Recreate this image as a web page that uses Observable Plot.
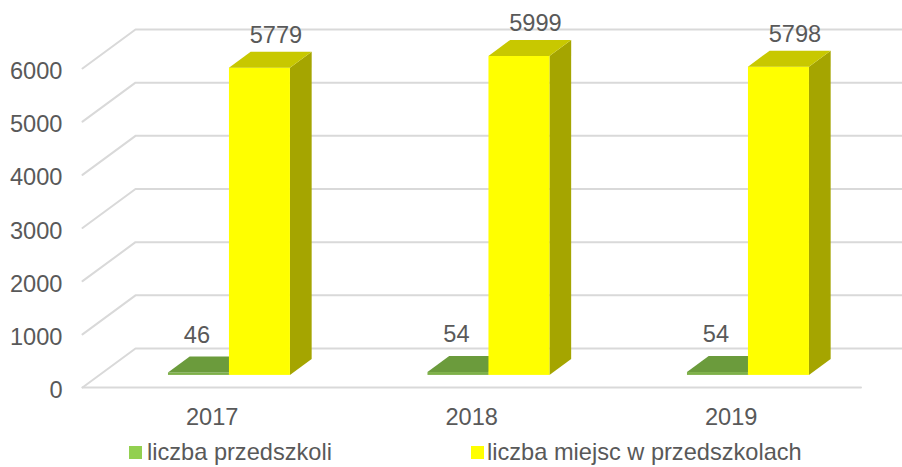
<!DOCTYPE html>
<html>
<head>
<meta charset="utf-8">
<script src="https://cdn.jsdelivr.net/npm/d3@7"></script>
<script src="https://cdn.jsdelivr.net/npm/@observablehq/plot@0.6"></script>
<style>
  html, body { margin: 0; padding: 0; background: #ffffff; }
  body { width: 902px; height: 467px; overflow: hidden; font-family: "Liberation Sans", Arial, sans-serif; }
  #legend { position: relative; width: 902px; height: 35px; color: #595959; font-size: 23.6px; }
  #legend .sw { position: absolute; top: 14px; width: 13px; height: 13px; }
  #legend .lb { position: absolute; top: 0; line-height: 40px; white-space: nowrap; }
</style>
</head>
<body>
<div id="chart"></div>
<div id="legend"></div>
<script>
// ---- data ----
const years = ["2017", "2018", "2019"];
const liczbaPrzedszkoli = [46, 54, 54];
const liczbaMiejsc = [5779, 5999, 5798];
const yTicks = [0, 1000, 2000, 3000, 4000, 5000, 6000];
const seriesNames = ["liczba przedszkoli", "liczba miejsc w przedszkolach"];

// ---- layout / style constants ----
const DX = 0.2042;   // x units per full floor depth
const DY = 733.5;    // value units per full floor depth
const DF = 0.31, DB = 0.72; // bar front/back depth
const BW = 0.235;    // bar width (x units)
const seriesLeft = [0.268, 0.503];
const faceColors = [
  {front: "#7DB048", top: "#6B9B3C", side: "#5A8830", legend: "#92D050"},
  {front: "#FFFF00", top: "#C8C800", side: "#A5A500", legend: "#FFFF00"}
];
const textColor = "#595959";
const gridColor = "#D9D9D9";
const FS = 23.6;

const seriesValues = [liczbaPrzedszkoli, liczbaMiejsc];
const bars = [];
seriesValues.forEach((vals, s) => vals.forEach((v, i) => bars.push({s, i, v, xl: i + seriesLeft[s], id: s + "-" + i})));

const frontFaces = bars.map(b => ({s: b.s, x1: b.xl + DF * DX, x2: b.xl + BW + DF * DX, y1: DF * DY, y2: b.v + DF * DY}));
const topFaces = bars.flatMap(b => [
  {s: b.s, id: b.id, y: b.v + DF * DY, x1: b.xl + DF * DX, x2: b.xl + BW + DF * DX},
  {s: b.s, id: b.id, y: b.v + DB * DY, x1: b.xl + DB * DX, x2: b.xl + BW + DB * DX}
]);
const sideFaces = bars.flatMap(b => [
  {s: b.s, id: b.id, x: b.xl + BW + DF * DX, y1: DF * DY, y2: b.v + DF * DY},
  {s: b.s, id: b.id, x: b.xl + BW + DB * DX, y1: DB * DY, y2: b.v + DB * DY}
]);

// gridlines: diagonal on left wall + horizontal on back wall
const grid = yTicks.flatMap(v => [
  {z: "g" + v, x: 0, y: v},
  {z: "g" + v, x: DX, y: v + DY},
  {z: "g" + v, x: years.length + DX, y: v + DY}
]).concat([{z: "floor", x: 0, y: 0}, {z: "floor", x: years.length, y: 0}]);

const valueLabels = bars.map(b => ({
  s: b.s,
  x: b.xl + BW / 2 + DF * DX,
  y: b.v + DF * DY,
  text: String(b.v)
}));

const marks = [
  Plot.line(grid, {x: "x", y: "y", z: "z", stroke: gridColor, strokeWidth: 2})
];
[0, 1].forEach(s => {
  const c = faceColors[s];
  marks.push(
    Plot.areaY(sideFaces.filter(d => d.s === s), {x: "x", y1: "y1", y2: "y2", z: "id", fill: c.side}),
    Plot.rect(frontFaces.filter(d => d.s === s), {x1: "x1", x2: "x2", y1: "y1", y2: "y2", fill: c.front}),
    Plot.areaX(topFaces.filter(d => d.s === s), {y: "y", x1: "x1", x2: "x2", z: "id", fill: c.top})
  );
});
marks.push(
  Plot.text(valueLabels.filter(d => d.s === 0), {x: "x", y: "y", text: "text", dx: -2, dy: -38, fill: textColor, fontSize: FS}),
  Plot.text(valueLabels.filter(d => d.s === 1), {x: "x", y: "y", text: "text", dx: 16, dy: -33, fill: textColor, fontSize: FS}),
  Plot.text(yTicks, {x: 0, y: d => d, text: d => String(d), dx: -20, dy: 3, textAnchor: "end", fill: textColor, fontSize: FS}),
  Plot.text(years, {x: (d, i) => i + 0.5, y: 0, text: d => d, dy: 30, fill: textColor, fontSize: FS})
);

const chart = Plot.plot({
  width: 902,
  height: 432,
  margin: 0,
  x: {type: "linear", domain: [0, years.length], range: [82, 860.5], axis: null},
  y: {type: "linear", domain: [0, 6000], range: [387, 68], axis: null},
  style: {fontFamily: "'Liberation Sans', Arial, sans-serif", background: "#ffffff", overflow: "hidden"},
  marks
});
document.getElementById("chart").appendChild(chart);

// legend
const legendEl = document.getElementById("legend");
const legendPos = [{sw: 129, lb: 147}, {sw: 471, lb: 487}];
seriesNames.forEach((name, s) => {
  const sw = document.createElement("div");
  sw.className = "sw";
  sw.style.left = legendPos[s].sw + "px";
  sw.style.background = faceColors[s].legend;
  const lb = document.createElement("div");
  lb.className = "lb";
  lb.style.left = legendPos[s].lb + "px";
  lb.textContent = name;
  legendEl.appendChild(sw);
  legendEl.appendChild(lb);
});
</script>
</body>
</html>
